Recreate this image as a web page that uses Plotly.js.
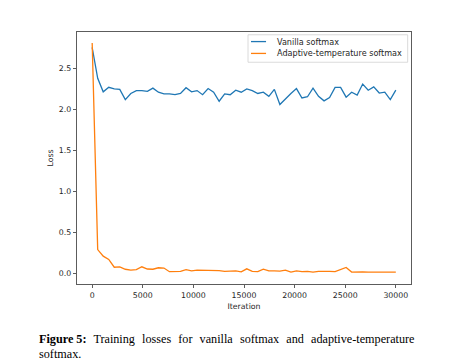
<!DOCTYPE html>
<html>
<head>
<meta charset="utf-8">
<script src="https://cdn.plot.ly/plotly-3.0.1.min.js"></script>
<style>html,body{margin:0;padding:0;background:#fff;}#chart{width:459px;height:364px;}</style>
</head>
<body>
<div id="chart"></div>
<script>
const iterations = [0,545,1091,1636,2182,2727,3273,3818,4364,4909,5455,6000,6545,7091,7636,8182,8727,9273,9818,10364,10909,11455,12000,12545,13091,13636,14182,14727,15273,15818,16364,16909,17455,18000,18545,19091,19636,20182,20727,21273,21818,22364,22909,23455,24000,24545,25091,25636,26182,26727,27273,27818,28364,28909,29455,30000];
const vanillaLoss = [2.756,2.38,2.215,2.27,2.25,2.245,2.12,2.195,2.23,2.23,2.22,2.26,2.21,2.19,2.19,2.18,2.195,2.265,2.215,2.23,2.18,2.255,2.21,2.10,2.19,2.18,2.235,2.21,2.25,2.23,2.195,2.21,2.16,2.245,2.06,2.13,2.195,2.255,2.14,2.155,2.26,2.16,2.105,2.145,2.27,2.27,2.15,2.21,2.175,2.31,2.235,2.275,2.20,2.21,2.12,2.235];
const adaptiveLoss = [2.81,0.29,0.21,0.17,0.075,0.08,0.05,0.04,0.045,0.08,0.053,0.05,0.068,0.065,0.02,0.02,0.025,0.045,0.03,0.04,0.04,0.04,0.035,0.033,0.025,0.025,0.03,0.018,0.055,0.025,0.02,0.05,0.03,0.03,0.028,0.04,0.015,0.03,0.02,0.025,0.015,0.025,0.028,0.025,0.02,0.045,0.072,0.015,0.02,0.018,0.015,0.015,0.015,0.02,0.018,0.015];
const seriesNames = ["Vanilla softmax","Adaptive-temperature softmax"];
const seriesColors = ["#1f77b4","#ff7f0e"];
const xTicks = [0,5000,10000,15000,20000,25000,30000];
const yTicks = [0.0,0.5,1.0,1.5,2.0,2.5];
const captionBold = "Figure 5:";
const captionLine1 = "Training losses for vanilla softmax and adaptive-temperature";
const captionLine2 = "softmax.";

const txt = "#262626";
const tickFont = {family:"DejaVu Sans", size:7.8, color:txt};
const traces = [
  {x:iterations, y:vanillaLoss, type:"scatter", mode:"lines", name:seriesNames[0], line:{color:seriesColors[0], width:1.3}},
  {x:iterations, y:adaptiveLoss, type:"scatter", mode:"lines", name:seriesNames[1], line:{color:seriesColors[1], width:1.3}}
];

// manual compact legend (matplotlib style)
const lg = {x0:0.512, x1:0.990, y0:0.880, y1:0.989, lx0:0.521, lx1:0.566, tx:0.593, rows:[0.962,0.915]};
const shapes = [
  {type:"rect", xref:"paper", yref:"paper", x0:lg.x0, x1:lg.x1, y0:lg.y0, y1:lg.y1, line:{color:"#d0d0d0", width:0.8}, fillcolor:"rgba(255,255,255,0.8)", layer:"above"}
];
const annotations = [];
seriesNames.forEach((n,i)=>{
  shapes.push({type:"line", xref:"paper", yref:"paper", x0:lg.lx0, x1:lg.lx1, y0:lg.rows[i], y1:lg.rows[i], line:{color:seriesColors[i], width:1.3}, layer:"above"});
  annotations.push({xref:"paper", yref:"paper", x:lg.tx, y:lg.rows[i], xanchor:"left", yanchor:"middle", showarrow:false, text:n, font:{family:"DejaVu Sans", size:8.1, color:txt}});
});
const sp = "\u2005\u200A";
annotations.push(
  {xref:"paper", yref:"paper", x:-0.12, y:-0.220, xanchor:"left", yanchor:"middle", showarrow:false, align:"left",
   text:"<b>"+captionBold+"</b>"+sp+" "+captionLine1.split(" ").join(" "+sp), font:{family:"Liberation Serif", size:12.2, color:"#000"}},
  {xref:"paper", yref:"paper", x:-0.12, y:-0.279, xanchor:"left", yanchor:"middle", showarrow:false, align:"left",
   text:captionLine2, font:{family:"Liberation Serif", size:12.2, color:"#000"}}
);

const layout = {
  width:459, height:364,
  margin:{l:77, r:48, t:32, b:80},
  paper_bgcolor:"#fff", plot_bgcolor:"#fff",
  showlegend:false,
  xaxis:{range:[-1500,31500], tickvals:xTicks, ticktext:xTicks.map(String), ticks:"outside", ticklen:3.5, tickwidth:0.8, tickcolor:"#333", showgrid:false, zeroline:false, showline:true, mirror:true, linecolor:"#333", linewidth:0.8, tickfont:tickFont, title:{text:"Iteration", font:{family:"DejaVu Sans", size:7.8, color:txt}, standoff:4}},
  yaxis:{range:[-0.13,2.945], tickvals:yTicks, ticktext:yTicks.map(v=>v.toFixed(1)), ticks:"outside", ticklen:3.5, tickwidth:0.8, tickcolor:"#333", showgrid:false, zeroline:false, showline:true, mirror:true, linecolor:"#333", linewidth:0.8, tickfont:tickFont, title:{text:"Loss", font:{family:"DejaVu Sans", size:7.8, color:txt}, standoff:3}},
  shapes:shapes,
  annotations:annotations
};
Plotly.newPlot("chart", traces, layout, {staticPlot:true, displayModeBar:false});
</script>
</body>
</html>
